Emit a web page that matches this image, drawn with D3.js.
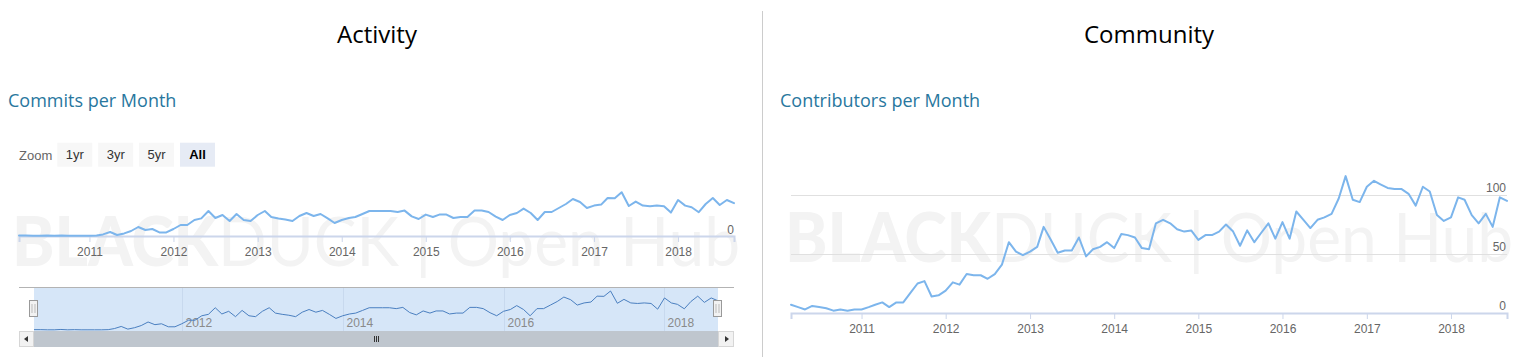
<!DOCTYPE html>
<html><head><meta charset="utf-8">
<script src="https://cdn.jsdelivr.net/npm/d3@7"></script>
<style>
body{margin:0;background:#fff;overflow:hidden}
svg{display:block}
</style>
</head><body>
<svg id="c" width="1528" height="357"></svg>
<script>
// ---------- DATA ----------
const firstMonth = [2010, 2];   // March 2010 (JS month index)
const lastMonth  = [2018, 8];   // September 2018
const commits = [2,2,1,1,3,1,2,1,1,1,1,2,
  8,20,5,13,25,45,30,35,18,18,35,55,55,80,88,125,90,105,75,110,80,75,105,125,
  95,88,83,75,100,115,100,110,88,65,80,90,95,110,125,125,125,125,120,127,98,85,
  107,95,107,107,90,95,95,127,127,120,97,80,105,115,137,115,80,120,120,140,160,
  185,170,140,152,157,190,189,219,150,172,152,149,152,149,117,180,152,144,119,
  160,190,155,180,164];
const contributors = [7,5,3,6,5,4,2,3,2,3,
  3,5,7,9,5,9,9,17,25,27,
  14,15,19,26,24,33,32,32,29,33,
  41,60,52,49,52,56,73,62,51,53,
  53,64,48,54,56,60,55,67,66,64,
  55,54,76,79,76,71,69,70,62,66,
  66,69,75,69,57,70,60,68,76,63,
  77,63,86,79,72,79,81,84,97,116,
  96,94,107,112,109,106,105,105,101,91,
  107,103,83,78,81,98,96,83,76,84,
  73,98,95];
const yearTicks = [2011,2012,2013,2014,2015,2016,2017,2018];
const navYearTicks = [2012,2014,2016,2018];
const commitTicks = [0];
const contribTicks = [0,50,100];
const zoomButtons = ["1yr","3yr","5yr","All"];
const selectedButton = "All";
const panelTitles = ["Activity","Community"];
const chartTitles = ["Commits per Month","Contributors per Month"];

// ---------- SETUP ----------
const months = d3.timeMonth.range(new Date(firstMonth[0], firstMonth[1], 1),
                                  new Date(lastMonth[0], lastMonth[1] + 1, 1));
const commitData = months.map((d,i)=>({d, v:commits[i]}));
const contribData = months.map((d,i)=>({d, v:contributors[i]}));
const domainX = [months[0], months[months.length-1]];

const svg = d3.select("#c");
const AX = "Liberation Sans, Arial, sans-serif";
const TF = "'Open Sans', 'Noto Sans', sans-serif";

// divider
svg.append("line").attr("x1",762.5).attr("x2",762.5).attr("y1",11).attr("y2",357)
  .attr("stroke","#cccccc").attr("stroke-width",1);

// titles
[[377,panelTitles[0]],[1149,panelTitles[1]]].forEach(([x,t])=>{
  svg.append("text").attr("x",x).attr("y",43).attr("text-anchor","middle")
    .attr("font-family",TF).attr("font-size",24).attr("fill","#000").text(t);
});
[[8,chartTitles[0]],[780,chartTitles[1]]].forEach(([x,t])=>{
  svg.append("text").attr("x",x).attr("y",107).attr("font-family",TF)
    .attr("font-size",18).attr("fill","#28779e").text(t);
});

// watermark helper
function watermark(x, y, w){
  const t = svg.append("text").attr("x",x).attr("y",y)
    .attr("font-family","Lato, 'Open Sans', sans-serif").attr("font-size",68)
    .attr("fill","#f3f3f3").attr("textLength",w).attr("lengthAdjust","spacingAndGlyphs");
  t.append("tspan").attr("font-weight",900).text("BLACK");
  t.append("tspan").attr("font-weight",400).text("DUCK | Open Hub");
}

// ---------- ACTIVITY ----------
watermark(12, 266, 728);
const xA = d3.scaleTime().domain(domainX).range([19, 734]);
const yA = d3.scaleLinear().domain([0, 400]).range([236, 156]);

// zoom selector
svg.append("text").attr("x",19).attr("y",160).attr("font-family",AX)
  .attr("font-size",13).attr("fill","#666").text("Zoom");
const bx = d3.scaleBand().domain(zoomButtons).range([57.3, 215]).paddingInner(0.144).paddingOuter(0);
zoomButtons.forEach(b=>{
  const sel = b===selectedButton;
  svg.append("rect").attr("x",bx(b)).attr("y",142.7).attr("width",bx.bandwidth()).attr("height",24)
    .attr("fill", sel ? "#e6ebf5" : "#f7f7f7");
  svg.append("text").attr("x",bx(b)+bx.bandwidth()/2).attr("y",158.5).attr("text-anchor","middle")
    .attr("font-family",AX).attr("font-size",13).attr("font-weight", sel?"bold":"normal")
    .attr("fill", sel ? "#000" : "#333").text(b);
});

// axis line + ticks
const axA = svg.append("g").attr("transform","translate(0,236)")
  .call(d3.axisBottom(xA).tickValues(yearTicks.map(y=>new Date(y,0,1)))
    .tickFormat(d3.timeFormat("%Y")).tickSize(6).tickPadding(5));
axA.select(".domain").attr("stroke","#ccd6eb").attr("stroke-width",2);
axA.selectAll(".tick line").attr("stroke","#ccd6eb");
axA.selectAll(".tick text").attr("font-family",AX).attr("font-size",12).attr("fill","#666");

commitTicks.forEach(t=>{
  svg.append("text").attr("x",734).attr("y",yA(t)-2).attr("text-anchor","end")
    .attr("font-family",AX).attr("font-size",12).attr("fill","#666").text(t);
});

svg.append("path").datum(commitData)
  .attr("d", d3.line().x(d=>xA(d.d)).y(d=>yA(d.v)))
  .attr("fill","none").attr("stroke","#7cb5ec").attr("stroke-width",2)
  .attr("stroke-linejoin","round").attr("stroke-linecap","round");

// ---------- NAVIGATOR ----------
const xN = d3.scaleTime().domain(domainX).range([34, 718]);
const yN = d3.scaleLinear().domain([0, d3.max(commits)]).range([330, 291]);
svg.append("rect").attr("x",34).attr("y",287.5).attr("width",684).attr("height",43.5)
  .attr("fill","#d6e6f8");
navYearTicks.forEach(y=>{
  const x = Math.round(xN(new Date(y,0,1)))+0.5;
  svg.append("line").attr("x1",x).attr("x2",x).attr("y1",288).attr("y2",331)
    .attr("stroke","#c8d9ee").attr("stroke-width",1);
  svg.append("text").attr("x",x+3).attr("y",327).attr("font-family",AX)
    .attr("font-size",12).attr("fill","#8a8a8a").text(y);
});
svg.append("path").datum(commitData)
  .attr("d", d3.line().x(d=>xN(d.d)).y(d=>yN(d.v)))
  .attr("fill","none").attr("stroke","#4a7fc0").attr("stroke-width",1);
svg.append("line").attr("x1",19).attr("x2",734).attr("y1",287.5).attr("y2",287.5)
  .attr("stroke","#b3b3b3");
// handles
[34,718].forEach(x=>{
  svg.append("rect").attr("x",x-4.5).attr("y",300.5).attr("width",8).attr("height",16)
    .attr("fill","#f2f2f2").attr("stroke","#999").attr("stroke-width",1);
  [-1.5,1.5].forEach(o=>svg.append("line").attr("x1",x+o-0.5).attr("x2",x+o-0.5)
    .attr("y1",304).attr("y2",313).attr("stroke","#bbb"));
});
// scrollbar
svg.append("rect").attr("x",19).attr("y",331).attr("width",715).attr("height",16).attr("fill","#f2f2f2");
svg.append("rect").attr("x",34).attr("y",331).attr("width",684).attr("height",16).attr("fill","#bfc6ce");
svg.append("rect").attr("x",19.5).attr("y",331.5).attr("width",14).attr("height",15)
  .attr("fill","#f2f2f2").attr("stroke","#d6d6d6");
svg.append("rect").attr("x",718.5).attr("y",331.5).attr("width",15).attr("height",15)
  .attr("fill","#f2f2f2").attr("stroke","#d6d6d6");
svg.append("path").attr("d","M28,336 L24,339 L28,342 Z").attr("fill","#333");
svg.append("path").attr("d","M725,336 L729,339 L725,342 Z").attr("fill","#333");
[-2,0,2].forEach(o=>svg.append("line").attr("x1",376+o+0.5).attr("x2",376+o+0.5)
  .attr("y1",336).attr("y2",342).attr("stroke","#333"));

// ---------- COMMUNITY ----------
watermark(785, 262, 728);
const xC = d3.scaleTime().domain(domainX).range([791, 1507]);
const yC = d3.scaleLinear().domain([0, 150]).range([313, 136]);

contribTicks.forEach(t=>{
  if (t>0) svg.append("line").attr("x1",791).attr("x2",1507)
    .attr("y1",Math.round(yC(t))+0.5).attr("y2",Math.round(yC(t))+0.5)
    .attr("stroke","#e0e0e0");
  svg.append("text").attr("x",1506).attr("y",yC(t)-3).attr("text-anchor","end")
    .attr("font-family",AX).attr("font-size",12).attr("fill","#666").text(t);
});
const axC = svg.append("g").attr("transform","translate(0,313)")
  .call(d3.axisBottom(xC).tickValues(yearTicks.map(y=>new Date(y,0,1)))
    .tickFormat(d3.timeFormat("%Y")).tickSize(6).tickPadding(5));
axC.select(".domain").attr("stroke","#ccd6eb").attr("stroke-width",2);
axC.selectAll(".tick line").attr("stroke","#ccd6eb");
axC.selectAll(".tick text").attr("font-family",AX).attr("font-size",12).attr("fill","#666");

svg.append("path").datum(contribData)
  .attr("d", d3.line().x(d=>xC(d.d)).y(d=>yC(d.v)))
  .attr("fill","none").attr("stroke","#7cb5ec").attr("stroke-width",2)
  .attr("stroke-linejoin","round").attr("stroke-linecap","round");
</script>
</body></html>
